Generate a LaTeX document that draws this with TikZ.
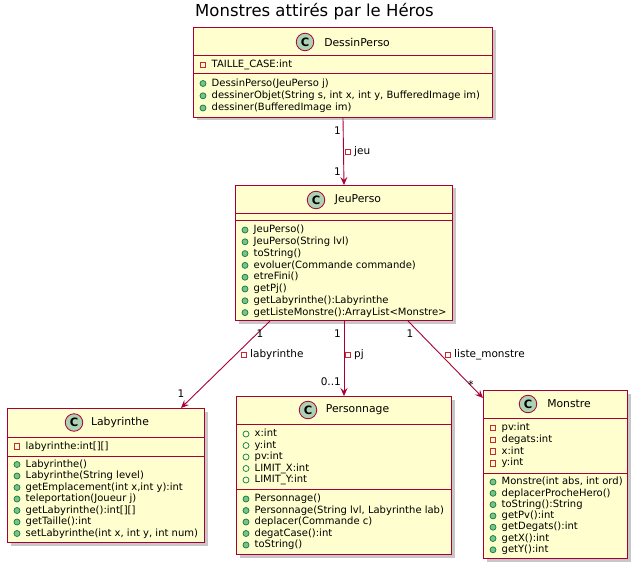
\documentclass[tikz,border=0pt]{standalone}
\usepackage{fontspec}
\setmainfont{DejaVu Sans}
\usetikzlibrary{shadows,arrows.meta}
\definecolor{umlborder}{HTML}{A80036}
\definecolor{umlfill}{HTML}{FEFECE}
\definecolor{umlbadge}{HTML}{ADD1B2}
\definecolor{privred}{HTML}{C82930}
\definecolor{pubgreen}{HTML}{038048}
\definecolor{pubfill}{HTML}{84BE84}
\tikzset{
 classbox/.style={draw=umlborder, fill=umlfill, line width=1pt, anchor=north west, inner sep=0pt,
   drop shadow={shadow xshift=3pt, shadow yshift=-3pt, fill=black, opacity=0.22}},
 sepline/.style={draw=umlborder, line width=1pt},
 badge/.style={circle, draw=umlborder, fill=umlbadge, line width=0.8pt, minimum size=17.5pt, inner sep=0pt,
   font=\fontsize{11.5}{11.5}\selectfont\bfseries},
 cname/.style={font=\fontsize{10.8}{12}\selectfont, inner sep=0pt},
 member/.style={font=\fontsize{10}{12}\selectfont, inner sep=0pt, anchor=mid west},
 privicon/.style={rectangle, draw=privred, line width=0.7pt, minimum size=5.5pt, inner sep=0pt},
 pubmeth/.style={circle, draw=pubgreen, fill=pubfill, line width=0.7pt, minimum size=6pt, inner sep=0pt},
 pubattr/.style={circle, draw=pubgreen, line width=0.7pt, minimum size=6pt, inner sep=0pt},
 assoc/.style={draw=umlborder, line width=0.9pt, -{Stealth[length=8pt,width=7pt,inset=3pt]}},
 mult/.style={font=\fontsize{10.5}{12}\selectfont, inner sep=0pt},
 titletext/.style={font=\fontsize{16.5}{18}\selectfont, inner sep=0pt},
}
\newcommand\umlPrivA[2]{\node[privicon] at (10,#1) {}; \node[member] at (18.5,#1) {#2};}
\newcommand\umlPubA[2]{\node[pubattr] at (10,#1) {}; \node[member] at (18.5,#1) {#2};}
\newcommand\umlPubM[2]{\node[pubmeth] at (10,#1) {}; \node[member] at (18.5,#1) {#2};}
\begin{document}
\begin{tikzpicture}[x=1pt,y=-1pt]
\useasboundingbox[fill=white] (0,0) rectangle (637,585);

\node[titletext, anchor=base] (title) at (314.5,17) {Monstres attirés par le Héros};

% DessinPerso
\begin{scope}[shift={(193,27)}]
\node[classbox, minimum width=299pt, minimum height=90pt] (dessin) at (0,0) {};
\draw[sepline] (0,29) -- (299,29);
\draw[sepline] (0,47) -- (299,47);
\node[badge] (dessinC) at (112,15) {C};
\node[cname] (dessinN) at (164,15) {DessinPerso};
\umlPrivA{38}{TAILLE\_CASE:int}
\umlPubM{56.5}{DessinPerso(JeuPerso j)}
\umlPubM{68.8}{dessinerObjet(String s, int x, int y, BufferedImage im)}
\umlPubM{81}{dessiner(BufferedImage im)}
\end{scope}

% JeuPerso
\begin{scope}[shift={(235,185)}]
\node[classbox, minimum width=217pt, minimum height=135pt] (jeu) at (0,0) {};
\draw[sepline] (0,29) -- (217,29);
\draw[sepline] (0,36) -- (217,36);
\node[badge] (jeuC) at (81,15) {C};
\node[cname] (jeuN) at (123,15) {JeuPerso};
\umlPubM{45}{JeuPerso()}
\umlPubM{56.8}{JeuPerso(String lvl)}
\umlPubM{68.6}{toString()}
\umlPubM{80.4}{evoluer(Commande commande)}
\umlPubM{92.2}{etreFini()}
\umlPubM{104}{getPj()}
\umlPubM{115.8}{getLabyrinthe():Labyrinthe}
\umlPubM{127.6}{getListeMonstre():ArrayList<Monstre>}
\end{scope}

% Labyrinthe
\begin{scope}[shift={(7,408)}]
\node[classbox, minimum width=197pt, minimum height=134pt] (laby) at (0,0) {};
\draw[sepline] (0,29) -- (197,29);
\draw[sepline] (0,48) -- (197,48);
\node[badge] (labyC) at (67,14.5) {C};
\node[cname] (labyN) at (113,14.5) {Labyrinthe};
\umlPrivA{38.5}{labyrinthe:int[][]}
\umlPubM{56.5}{Labyrinthe()}
\umlPubM{68}{Labyrinthe(String level)}
\umlPubM{79.5}{getEmplacement(int x,int y):int}
\umlPubM{91}{teleportation(Joueur j)}
\umlPubM{102.5}{getLabyrinthe():int[][]}
\umlPubM{114}{getTaille():int}
\umlPubM{125.5}{setLabyrinthe(int x, int y, int num)}
\end{scope}

% Personnage
\begin{scope}[shift={(236,396)}]
\node[classbox, minimum width=215pt, minimum height=158pt] (pers) at (0,0) {};
\draw[sepline] (0,28) -- (215,28);
\draw[sepline] (0,93) -- (215,93);
\node[badge] (persC) at (72,14) {C};
\node[cname] (persN) at (121.5,14) {Personnage};
\umlPubA{38}{x:int}
\umlPubA{49.5}{y:int}
\umlPubA{61}{pv:int}
\umlPubA{72.5}{LIMIT\_X:int}
\umlPubA{84}{LIMIT\_Y:int}
\umlPubM{103}{Personnage()}
\umlPubM{114.5}{Personnage(String lvl, Labyrinthe lab)}
\umlPubM{126}{deplacer(Commande c)}
\umlPubM{137.5}{degatCase():int}
\umlPubM{149}{toString()}
\end{scope}

% Monstre
\begin{scope}[shift={(483,390)}]
\node[classbox, minimum width=144pt, minimum height=168pt] (monstre) at (0,0) {};
\draw[sepline] (0,28) -- (144,28);
\draw[sepline] (0,83) -- (144,83);
\node[badge] (monstreC) at (45,14) {C};
\node[cname] (monstreN) at (86,14) {Monstre};
\umlPrivA{38}{pv:int}
\umlPrivA{49.7}{degats:int}
\umlPrivA{61.4}{x:int}
\umlPrivA{73.1}{y:int}
\umlPubM{92}{Monstre(int abs, int ord)}
\umlPubM{103.3}{deplacerProcheHero()}
\umlPubM{114.6}{toString():String}
\umlPubM{125.9}{getPv():int}
\umlPubM{137.2}{getDegats():int}
\umlPubM{148.5}{getX():int}
\umlPubM{159.8}{getY():int}
\end{scope}

% Connectors
\draw[assoc] (dessin.south) -- (jeu.north);
\draw[assoc] ([xshift=35pt]jeu.south west) -- ([xshift=-24pt]laby.north east);
\draw[assoc] (jeu.south) -- (pers.north);
\draw[assoc] ([xshift=-45pt]jeu.south east) -- ([yshift=-8pt]monstre.north west);

% Labels dessin -> jeu
\node[mult, anchor=east] (m1a) at (341,131) {1};
\node[privicon] (l1i) at (348,152) {};
\node[mult, anchor=mid west] (l1t) at (354,152) {jeu};
\node[mult, anchor=east] (m1b) at (341,172) {1};

% Labels jeu -> laby
\node[mult] (m2a) at (260,334) {1};
\node[privicon] (l2i) at (244,355) {};
\node[mult, anchor=mid west] (l2t) at (250,355) {labyrinthe};
\node[mult] (m2b) at (181,394) {1};

% Labels jeu -> pers
\node[mult, anchor=east] (m3a) at (341,334) {1};
\node[privicon] (l3i) at (348,355) {};
\node[mult, anchor=mid west] (l3t) at (354,355) {pj};
\node[mult, anchor=east] (m3b) at (341,382) {0..1};

% Labels jeu -> monstre
\node[mult] (m4a) at (410,334) {1};
\node[privicon] (l4i) at (448,355) {};
\node[mult, anchor=mid west] (l4t) at (454,355) {liste\_monstre};
\node[mult] (m4b) at (471,385) {*};
\end{tikzpicture}
\end{document}
